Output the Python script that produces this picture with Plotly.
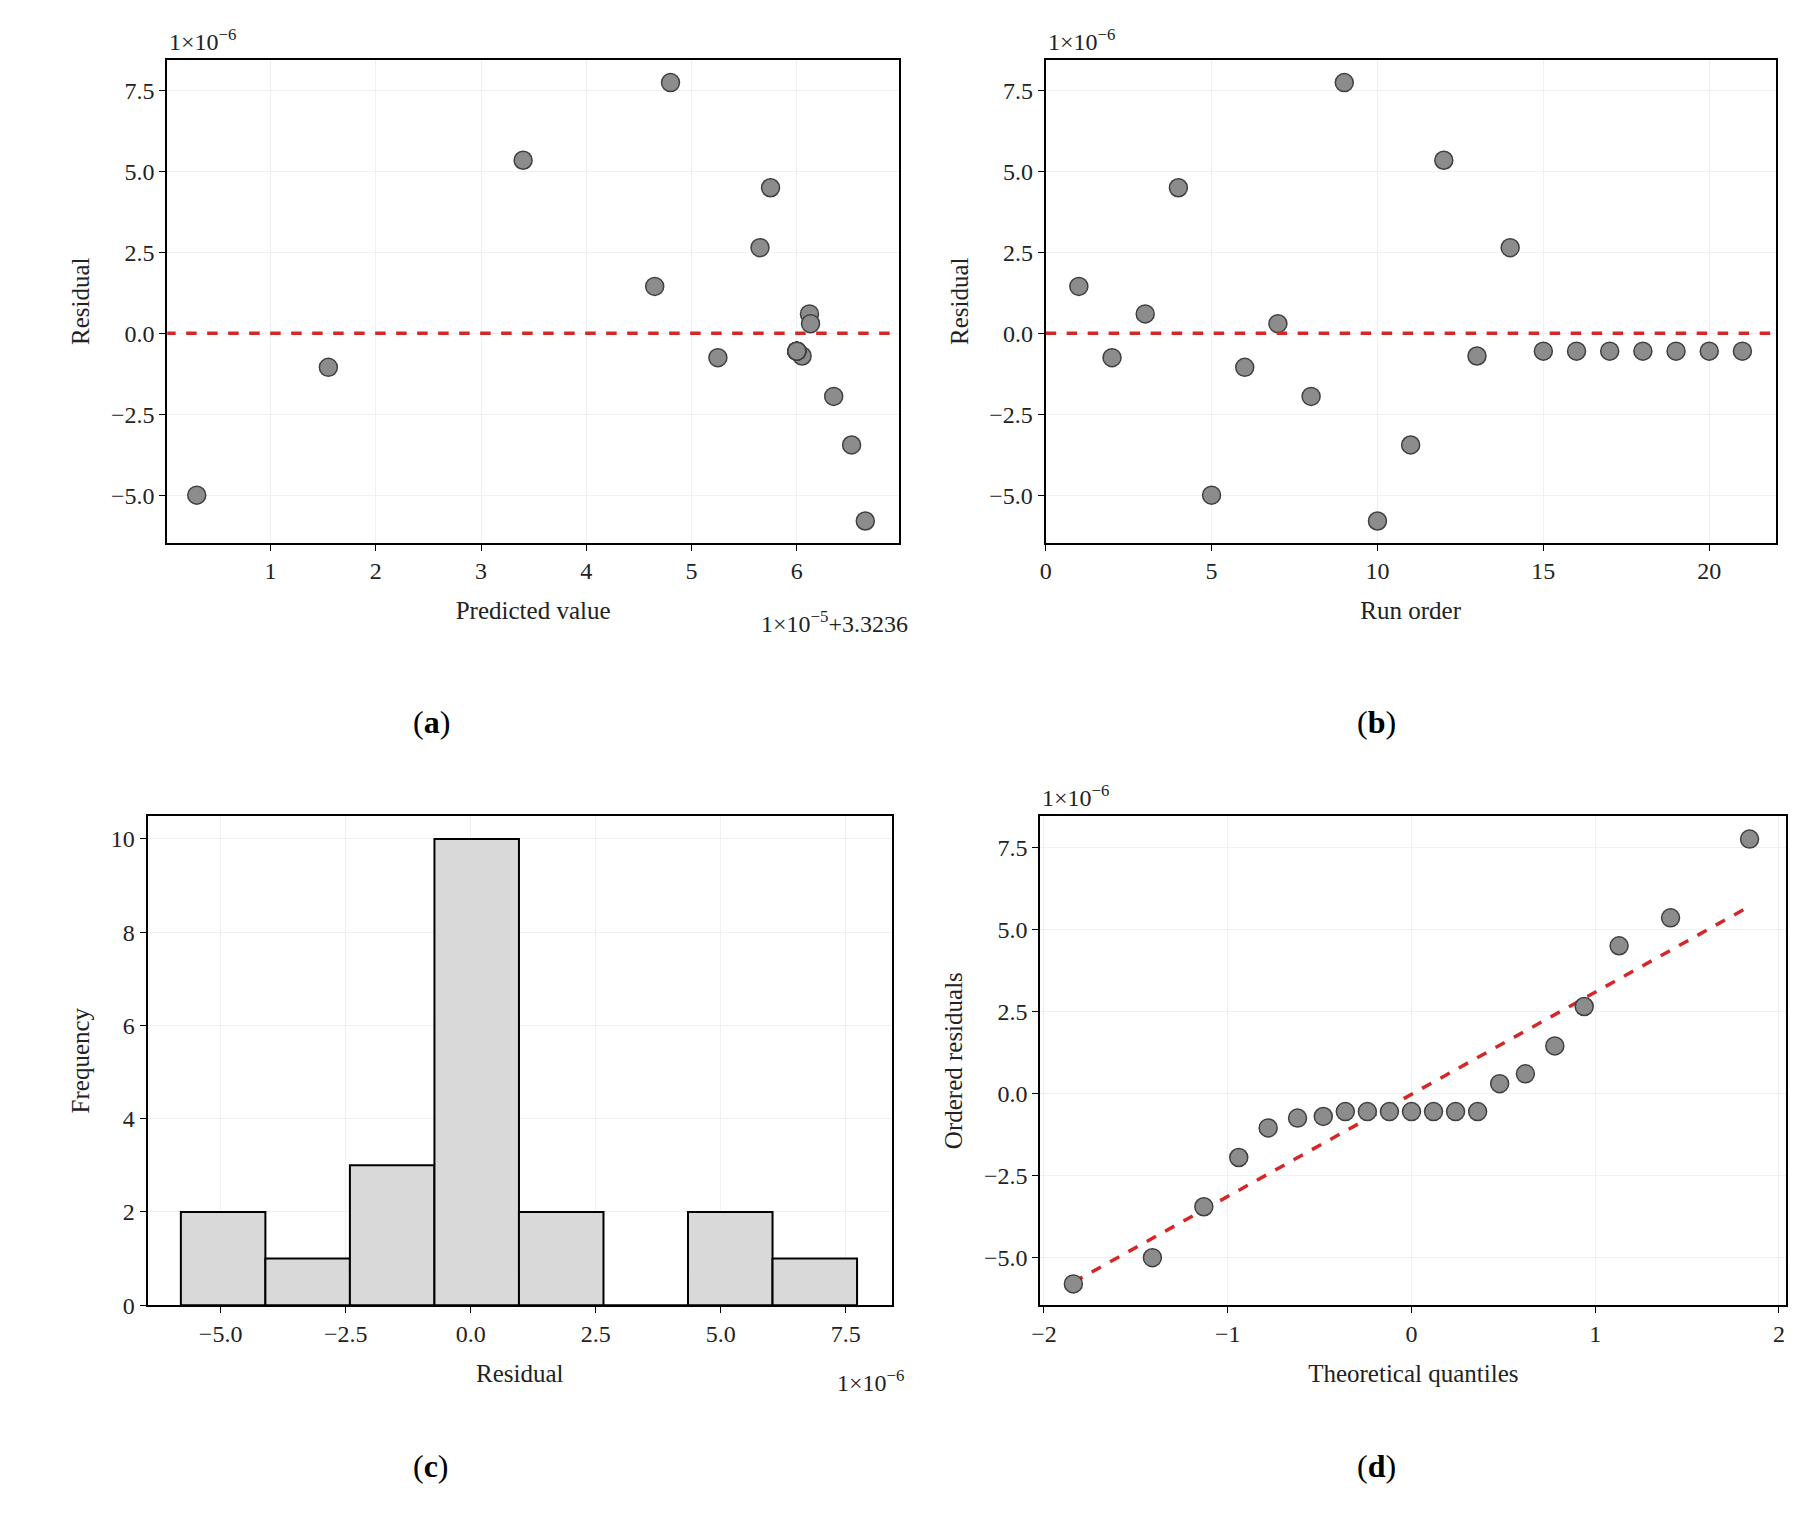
import plotly.graph_objects as go

# residual diagnostics (residuals in 1e-6, predicted in 1e-5 + 3.3236)
run_order = list(range(1, 22))
residual = [1.45, -0.75, 0.6, 4.5, -5.0, -1.05, 0.3, -1.95, 7.75, -5.8, -3.45,
            5.35, -0.7, 2.65, -0.55, -0.55, -0.55, -0.55, -0.55, -0.55, -0.55]
predicted = [4.65, 5.25, 6.12, 5.75, 0.3, 1.55, 6.13, 6.35, 4.8, 6.65, 6.52,
             3.4, 6.05, 5.65, 6.0, 6.0, 6.0, 6.0, 6.0, 6.0, 6.0]

hist_centers = [-4.95, -3.26, -1.57, 0.12, 1.81, 3.5, 5.19, 6.88]
hist_counts = [2, 1, 3, 10, 2, 0, 2, 1]
hist_width = 1.69

theo_q = [-1.84, -1.41, -1.13, -0.94, -0.78, -0.62, -0.48, -0.36, -0.24, -0.12, 0,
          0.12, 0.24, 0.36, 0.48, 0.62, 0.78, 0.94, 1.13, 1.41, 1.84]
ordered_res = sorted(residual)
fit_x = [-1.84, 1.84]
fit_y = [-5.75, 5.7]

FONT = "Liberation Serif"
TFONT = dict(size=25, color="#222", family=FONT)
marker = dict(size=18, color="#8c8c8c", line=dict(color="#404040", width=1.5))
red = dict(color="#d62728", width=3.5, dash="dash")
res_ticks = [-5, -2.5, 0, 2.5, 5, 7.5]
res_text = ["−5.0", "−2.5", "0.0", "2.5", "5.0", "7.5"]

fig = go.Figure()
fig.add_trace(go.Scatter(x=predicted, y=residual, mode="markers", marker=marker, xaxis="x", yaxis="y"))
fig.add_trace(go.Scatter(x=[0, 7], y=[0, 0], mode="lines", line=red, xaxis="x", yaxis="y"))
fig.add_trace(go.Scatter(x=run_order, y=residual, mode="markers", marker=marker, xaxis="x2", yaxis="y2"))
fig.add_trace(go.Scatter(x=[0, 22], y=[0, 0], mode="lines", line=red, xaxis="x2", yaxis="y2"))
fig.add_trace(go.Bar(x=hist_centers, y=hist_counts, width=hist_width,
                     marker=dict(color="#d9d9d9", line=dict(color="black", width=2)),
                     xaxis="x3", yaxis="y3"))
fig.add_trace(go.Scatter(x=fit_x, y=fit_y, mode="lines", line=red, xaxis="x4", yaxis="y4"))
fig.add_trace(go.Scatter(x=theo_q, y=ordered_res, mode="markers", marker=marker, xaxis="x4", yaxis="y4"))

ax = dict(showline=True, linecolor="black", linewidth=2, mirror=True, ticks="outside",
          ticklen=6, tickcolor="black", showgrid=True, gridcolor="#f0f0f0", zeroline=False,
          tickfont=dict(size=24, color="#222"))


def xt(t):
    return dict(text=t, standoff=18, font=TFONT)


def yt(t):
    return dict(text=t, standoff=14, font=TFONT)


fig.update_layout(
    width=1798, height=1532, showlegend=False, plot_bgcolor="white", paper_bgcolor="white",
    margin=dict(l=0, r=0, t=0, b=0), font=dict(family=FONT),
    xaxis=dict(ax, domain=[0.084, 0.493], range=[0.02, 6.97], dtick=1, tick0=1,
               title=xt("Predicted value"), anchor="y"),
    yaxis=dict(ax, domain=[0.648, 0.966], range=[-6.47, 8.46], tickvals=res_ticks,
               ticktext=res_text, title=yt("Residual"), anchor="x"),
    xaxis2=dict(ax, domain=[0.575, 0.983], range=[0, 22], dtick=5,
                title=xt("Run order"), anchor="y2"),
    yaxis2=dict(ax, domain=[0.648, 0.966], range=[-6.47, 8.46], tickvals=res_ticks,
                ticktext=res_text, title=yt("Residual"), anchor="x2"),
    xaxis3=dict(ax, domain=[0.073, 0.489], range=[-6.46, 8.42], tickvals=res_ticks,
                ticktext=res_text, title=xt("Residual"), anchor="y3"),
    yaxis3=dict(ax, domain=[0.146, 0.468], range=[0, 10.49], dtick=2, title=yt("Frequency"), anchor="x3"),
    xaxis4=dict(ax, domain=[0.572, 0.989], range=[-2.02, 2.04], tickvals=[-2, -1, 0, 1, 2],
                ticktext=["−2", "−1", "0", "1", "2"], title=xt("Theoretical quantiles"), anchor="y4"),
    yaxis4=dict(ax, domain=[0.146, 0.468], range=[-6.45, 8.45], tickvals=res_ticks,
                ticktext=res_text, title=yt("Ordered residuals"), anchor="x4"),
)

notes = [
    (0.084, 0.968, "1×10<sup>−6</sup>", "left", "bottom"),
    (0.575, 0.968, "1×10<sup>−6</sup>", "left", "bottom"),
    (0.572, 0.470, "1×10<sup>−6</sup>", "left", "bottom"),
    (0.499, 0.596, "1×10<sup>−5</sup>+3.3236", "right", "middle"),
    (0.497, 0.096, "1×10<sup>−6</sup>", "right", "middle"),
]
for x, y, t, xa, ya in notes:
    fig.add_annotation(x=x, y=y, xref="paper", yref="paper", text=t, showarrow=False,
                       xanchor=xa, yanchor=ya, font=dict(size=24, color="#222"))
for x, y, t in [(0.22, 0.53, "(<b>a</b>)"), (0.772, 0.53, "(<b>b</b>)"),
                (0.22, 0.027, "(<b>c</b>)"), (0.772, 0.027, "(<b>d</b>)")]:
    fig.add_annotation(x=x, y=y, xref="paper", yref="paper", text=t, showarrow=False,
                       font=dict(size=32, color="black"))

fig.write_html("out.html")
